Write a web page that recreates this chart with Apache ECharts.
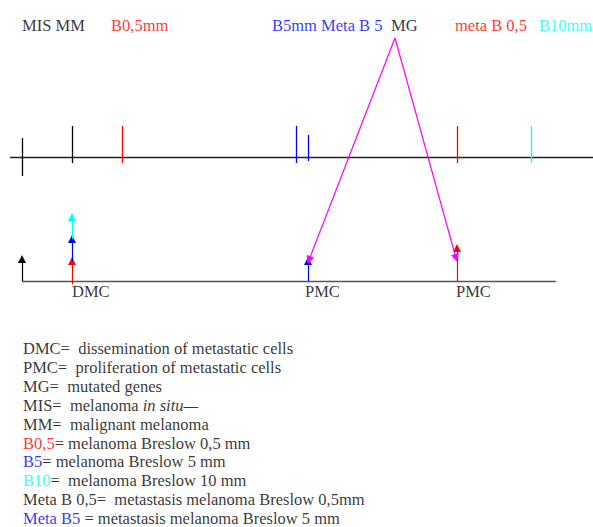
<!DOCTYPE html>
<html>
<head>
<meta charset="utf-8">
<script src="https://cdn.jsdelivr.net/npm/echarts@6/dist/echarts.min.js"></script>
<style>html,body{margin:0;padding:0;background:#fff}#c{width:593px;height:527px}</style>
</head>
<body>
<div id="c"></div>
<script>
// ---- data ----
const topLabels = ['MIS MM', 'B0,5mm', 'B5mm Meta B 5', 'MG', 'meta B 0,5', 'B10mm'];
const topLabelX = [22, 111, 272, 391, 455, 539];
const topLabelKind = ['k', 'r', 'b', 'k', 'r', 'c'];

const tickNames = ['MIS', 'MM', 'B0,5', 'B5', 'Meta B5', 'Meta B 0,5', 'B10'];
const tickX = [22, 72, 122, 296, 308, 457, 531];
const tickKind = ['k', 'k', 'r', 'b', 'b', 'r', 'c'];

const dmcX = 72;
const dmcTips = [261, 239, 217];          // red, blue, cyan stacked arrows
const dmcKind = ['r', 'b', 'c'];
const pmcX = [308, 457];
const pmcTips = [261, 248];
const pmcKind = ['b', 'r'];
const originTip = 259;
const mgApex = [395, 38];
const mgTargets = [[309, 260], [456, 258]];
const bottomLabels = ['DMC', 'PMC', 'PMC'];
const bottomLabelX = [72, 305, 456];

const legendLines = [
  'DMC=\u00a0 dissemination of metastatic cells',
  'PMC=\u00a0 proliferation of metastatic cells',
  'MG=\u00a0 mutated genes',
  'MIS=\u00a0 melanoma {i|in situ—}',
  'MM=\u00a0 malignant melanoma',
  '{r|B0,5}= melanoma Breslow 0,5 mm',
  '{b|B5}= melanoma Breslow 5 mm',
  '{c|B10}=\u00a0 melanoma Breslow 10 mm',
  'Meta B 0,5=\u00a0 metastasis melanoma Breslow 0,5mm',
  '{b|Meta B5} = metastasis melanoma Breslow 5 mm'
];

// ---- layout / style ----
const W = 593, H = 527;
const topY = 157, baseY = 281;
const colors = { k: '#000000', r: '#ff0000', b: '#0000ff', c: '#00ffff', m: '#ff00ff' };
const FONT = 'Liberation Serif';
const FS = 16.5;

const tickExtent = name => {
  if (name === 'MIS') return [138, 176];
  if (name === 'Meta B5') return [135, 161];
  return [126, 163];
};

const segs = [];
segs.push({ coords: [[10, topY], [W, topY]], lineStyle: { color: '#222', width: 1.4 } });
segs.push({ coords: [[22, baseY], [556, baseY]], lineStyle: { color: '#555', width: 1.4 } });
tickX.forEach((x, i) => {
  const [a, b] = tickExtent(tickNames[i]);
  segs.push({ coords: [[x, a], [x, b]], lineStyle: { color: colors[tickKind[i]], width: 1.3 } });
});

const arrows = [];
arrows.push({ coords: [[22, baseY], [22, originTip]], lineStyle: { color: '#000' } });
let prev = baseY + 3;
dmcTips.forEach((t, i) => {
  arrows.push({ coords: [[dmcX, prev], [dmcX, t]], lineStyle: { color: colors[dmcKind[i]] } });
  prev = t;
});
pmcX.forEach((x, i) => {
  arrows.push({ coords: [[x, baseY], [x, pmcTips[i]]], lineStyle: { color: colors[pmcKind[i]] } });
});
mgTargets.forEach(t => {
  arrows.push({ coords: [mgApex, t], lineStyle: { color: colors.m } });
});

const rich = {
  r: { color: colors.r, fontFamily: FONT, fontSize: FS },
  b: { color: colors.b, fontFamily: FONT, fontSize: FS },
  c: { color: colors.c, fontFamily: FONT, fontSize: FS },
  i: { color: '#000', fontStyle: 'italic', fontFamily: FONT, fontSize: FS }
};

const textItems = [];
topLabels.forEach((s, i) => textItems.push({ value: [topLabelX[i], 25], label: { formatter: s, color: colors[topLabelKind[i]] } }));
bottomLabels.forEach((s, i) => textItems.push({ value: [bottomLabelX[i], 291], label: { formatter: s, color: '#000' } }));
legendLines.forEach((s, i) => textItems.push({ value: [23, 348.5 + i * 18.9], label: { formatter: s, color: '#000' } }));

const chart = echarts.init(document.getElementById('c'), null, { renderer: 'svg', width: W, height: H });
chart.setOption({
  animation: false,
  backgroundColor: '#fff',
  grid: { left: 0, right: 0, top: 0, bottom: 0 },
  xAxis: { type: 'value', min: 0, max: W, show: false },
  yAxis: { type: 'value', min: 0, max: H, inverse: true, show: false },
  series: [
    { type: 'lines', coordinateSystem: 'cartesian2d', symbol: 'none', data: segs, silent: true, z: 1,
      lineStyle: { opacity: 1 } },
    { type: 'lines', coordinateSystem: 'cartesian2d', symbol: ['none', 'triangle'], symbolSize: 8,
      lineStyle: { width: 1.2, opacity: 1 }, data: arrows, silent: true, z: 2 },
    { type: 'scatter', symbolSize: 0, silent: true, z: 3,
      label: { show: true, position: 'right', distance: 0, fontFamily: FONT, fontSize: FS, lineHeight: 15, rich: rich },
      data: textItems }
  ]
});
</script>
</body>
</html>
